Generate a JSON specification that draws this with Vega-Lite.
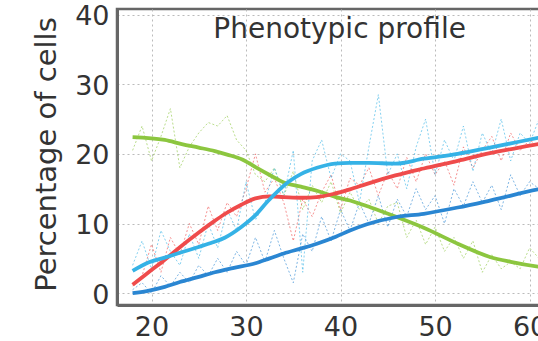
{
  "$schema": "https://vega.github.io/schema/vega-lite/v6.json",
  "autosize": "none",
  "width": 440,
  "height": 296,
  "padding": {"left": 117, "top": 9, "right": 0, "bottom": 36},
  "background": "white",
  "config": {
    "view": {"stroke": "#666666", "strokeWidth": 2.5},
    "axis": {"domainColor": "#666666", "domainWidth": 3, "gridColor": "#bbbbbb", "gridDash": [2, 3], "gridWidth": 1, "ticks": false, "labelFont": "DejaVu Sans", "labelFontSize": 27, "labelColor": "#333333", "titleFont": "DejaVu Sans", "titleFontSize": 29, "titleFontWeight": "normal", "titleColor": "#333333"}
  },
  "datasets": {
    "smooth": [
      {"age": 18, "pct": 22.4, "s": "green"}, {"age": 21.4, "pct": 22.0, "s": "green"}, {"age": 23.2, "pct": 21.4, "s": "green"}, {"age": 25, "pct": 20.9, "s": "green"}, {"age": 26.7, "pct": 20.4, "s": "green"}, {"age": 28, "pct": 19.9, "s": "green"}, {"age": 29.6, "pct": 19.2, "s": "green"}, {"age": 31, "pct": 18.1, "s": "green"}, {"age": 32.6, "pct": 16.9, "s": "green"}, {"age": 34, "pct": 15.9, "s": "green"}, {"age": 35.8, "pct": 15.3, "s": "green"}, {"age": 37.5, "pct": 14.7, "s": "green"}, {"age": 39.5, "pct": 13.8, "s": "green"}, {"age": 41, "pct": 13.3, "s": "green"}, {"age": 43.2, "pct": 12.3, "s": "green"}, {"age": 45.8, "pct": 11.0, "s": "green"}, {"age": 48.8, "pct": 9.4, "s": "green"}, {"age": 52.4, "pct": 7.1, "s": "green"}, {"age": 55.8, "pct": 5.2, "s": "green"}, {"age": 58, "pct": 4.5, "s": "green"}, {"age": 60.9, "pct": 3.8, "s": "green"}, {"age": 62, "pct": 3.6, "s": "green"},
      {"age": 18, "pct": 1.2, "s": "red"}, {"age": 19.5, "pct": 2.8, "s": "red"}, {"age": 21.4, "pct": 4.8, "s": "red"}, {"age": 23, "pct": 6.6, "s": "red"}, {"age": 24.9, "pct": 8.6, "s": "red"}, {"age": 26.5, "pct": 10.2, "s": "red"}, {"age": 27.8, "pct": 11.4, "s": "red"}, {"age": 29.5, "pct": 12.7, "s": "red"}, {"age": 31, "pct": 13.6, "s": "red"}, {"age": 32.5, "pct": 13.9, "s": "red"}, {"age": 34, "pct": 13.8, "s": "red"}, {"age": 36, "pct": 13.7, "s": "red"}, {"age": 37.5, "pct": 13.8, "s": "red"}, {"age": 39.4, "pct": 14.3, "s": "red"}, {"age": 41, "pct": 14.9, "s": "red"}, {"age": 42.8, "pct": 15.7, "s": "red"}, {"age": 45.8, "pct": 16.9, "s": "red"}, {"age": 48.8, "pct": 17.9, "s": "red"}, {"age": 52.4, "pct": 19.0, "s": "red"}, {"age": 55.8, "pct": 20.1, "s": "red"}, {"age": 60.9, "pct": 21.4, "s": "red"}, {"age": 62, "pct": 21.7, "s": "red"},
      {"age": 18, "pct": 3.2, "s": "cyan"}, {"age": 19.5, "pct": 4.3, "s": "cyan"}, {"age": 21.4, "pct": 5.1, "s": "cyan"}, {"age": 23, "pct": 5.8, "s": "cyan"}, {"age": 24.9, "pct": 6.6, "s": "cyan"}, {"age": 26.5, "pct": 7.3, "s": "cyan"}, {"age": 27.8, "pct": 8.0, "s": "cyan"}, {"age": 29.5, "pct": 9.5, "s": "cyan"}, {"age": 31, "pct": 11.2, "s": "cyan"}, {"age": 32.3, "pct": 13.2, "s": "cyan"}, {"age": 33.4, "pct": 14.7, "s": "cyan"}, {"age": 34.5, "pct": 16.0, "s": "cyan"}, {"age": 35.8, "pct": 17.1, "s": "cyan"}, {"age": 37.5, "pct": 18.0, "s": "cyan"}, {"age": 39.4, "pct": 18.6, "s": "cyan"}, {"age": 41, "pct": 18.7, "s": "cyan"}, {"age": 43, "pct": 18.7, "s": "cyan"}, {"age": 45.8, "pct": 18.6, "s": "cyan"}, {"age": 48.8, "pct": 19.3, "s": "cyan"}, {"age": 52.4, "pct": 20.0, "s": "cyan"}, {"age": 55.8, "pct": 20.9, "s": "cyan"}, {"age": 60.9, "pct": 22.3, "s": "cyan"}, {"age": 62, "pct": 22.6, "s": "cyan"},
      {"age": 18, "pct": 0.0, "s": "blue"}, {"age": 19.5, "pct": 0.3, "s": "blue"}, {"age": 21.4, "pct": 0.9, "s": "blue"}, {"age": 23, "pct": 1.6, "s": "blue"}, {"age": 24.9, "pct": 2.3, "s": "blue"}, {"age": 26.7, "pct": 3.0, "s": "blue"}, {"age": 28.6, "pct": 3.6, "s": "blue"}, {"age": 31, "pct": 4.3, "s": "blue"}, {"age": 32.5, "pct": 5.0, "s": "blue"}, {"age": 34, "pct": 5.7, "s": "blue"}, {"age": 35.8, "pct": 6.4, "s": "blue"}, {"age": 37.5, "pct": 7.1, "s": "blue"}, {"age": 39.5, "pct": 8.1, "s": "blue"}, {"age": 41, "pct": 9.0, "s": "blue"}, {"age": 42.8, "pct": 9.9, "s": "blue"}, {"age": 45.8, "pct": 10.9, "s": "blue"}, {"age": 48.8, "pct": 11.4, "s": "blue"}, {"age": 52.4, "pct": 12.3, "s": "blue"}, {"age": 55.8, "pct": 13.3, "s": "blue"}, {"age": 60.9, "pct": 14.9, "s": "blue"}, {"age": 62, "pct": 15.2, "s": "blue"}
    ],
    "raw": [
      {"age": 18, "pct": 20.5, "s": "green"}, {"age": 19, "pct": 24, "s": "green"}, {"age": 20, "pct": 19, "s": "green"}, {"age": 21, "pct": 22.5, "s": "green"}, {"age": 22, "pct": 26.5, "s": "green"}, {"age": 23, "pct": 18, "s": "green"}, {"age": 24, "pct": 21, "s": "green"}, {"age": 25, "pct": 23, "s": "green"}, {"age": 26, "pct": 24.5, "s": "green"}, {"age": 27, "pct": 24, "s": "green"}, {"age": 28, "pct": 25.5, "s": "green"}, {"age": 29, "pct": 22, "s": "green"}, {"age": 30, "pct": 20.5, "s": "green"}, {"age": 31, "pct": 17, "s": "green"}, {"age": 32, "pct": 16, "s": "green"}, {"age": 33, "pct": 18, "s": "green"}, {"age": 34, "pct": 14, "s": "green"}, {"age": 35, "pct": 17.5, "s": "green"}, {"age": 36, "pct": 12, "s": "green"}, {"age": 37, "pct": 15.5, "s": "green"}, {"age": 38, "pct": 13, "s": "green"}, {"age": 39, "pct": 16, "s": "green"}, {"age": 40, "pct": 11.5, "s": "green"}, {"age": 41, "pct": 14.5, "s": "green"}, {"age": 42, "pct": 12, "s": "green"}, {"age": 43, "pct": 13.5, "s": "green"}, {"age": 44, "pct": 10, "s": "green"}, {"age": 45, "pct": 12.5, "s": "green"}, {"age": 46, "pct": 13, "s": "green"}, {"age": 47, "pct": 8, "s": "green"}, {"age": 48, "pct": 10.5, "s": "green"}, {"age": 49, "pct": 7, "s": "green"}, {"age": 50, "pct": 9.5, "s": "green"}, {"age": 51, "pct": 6, "s": "green"}, {"age": 52, "pct": 8, "s": "green"}, {"age": 53, "pct": 5, "s": "green"}, {"age": 54, "pct": 7.5, "s": "green"}, {"age": 55, "pct": 3, "s": "green"}, {"age": 56, "pct": 5.5, "s": "green"}, {"age": 57, "pct": 3.5, "s": "green"}, {"age": 58, "pct": 4.5, "s": "green"}, {"age": 59, "pct": 3.5, "s": "green"}, {"age": 60, "pct": 6.5, "s": "green"}, {"age": 61, "pct": 5, "s": "green"},
      {"age": 18, "pct": 1, "s": "red"}, {"age": 19, "pct": 2.5, "s": "red"}, {"age": 20, "pct": 7, "s": "red"}, {"age": 21, "pct": 3, "s": "red"}, {"age": 22, "pct": 8, "s": "red"}, {"age": 23, "pct": 5.5, "s": "red"}, {"age": 24, "pct": 10, "s": "red"}, {"age": 25, "pct": 7, "s": "red"}, {"age": 26, "pct": 12.5, "s": "red"}, {"age": 27, "pct": 9, "s": "red"}, {"age": 28, "pct": 13, "s": "red"}, {"age": 29, "pct": 11, "s": "red"}, {"age": 30, "pct": 15, "s": "red"}, {"age": 31, "pct": 20, "s": "red"}, {"age": 32, "pct": 14.5, "s": "red"}, {"age": 33, "pct": 16.5, "s": "red"}, {"age": 34, "pct": 13, "s": "red"}, {"age": 35, "pct": 7.5, "s": "red"}, {"age": 36, "pct": 13.5, "s": "red"}, {"age": 37, "pct": 11, "s": "red"}, {"age": 38, "pct": 14.5, "s": "red"}, {"age": 39, "pct": 17, "s": "red"}, {"age": 40, "pct": 12, "s": "red"}, {"age": 41, "pct": 16.5, "s": "red"}, {"age": 42, "pct": 15.5, "s": "red"}, {"age": 43, "pct": 18, "s": "red"}, {"age": 44, "pct": 14, "s": "red"}, {"age": 45, "pct": 17.5, "s": "red"}, {"age": 46, "pct": 15, "s": "red"}, {"age": 47, "pct": 19.5, "s": "red"}, {"age": 48, "pct": 16, "s": "red"}, {"age": 49, "pct": 20, "s": "red"}, {"age": 50, "pct": 17, "s": "red"}, {"age": 51, "pct": 19, "s": "red"}, {"age": 52, "pct": 15.5, "s": "red"}, {"age": 53, "pct": 21, "s": "red"}, {"age": 54, "pct": 18, "s": "red"}, {"age": 55, "pct": 20.5, "s": "red"}, {"age": 56, "pct": 22.5, "s": "red"}, {"age": 57, "pct": 19, "s": "red"}, {"age": 58, "pct": 23, "s": "red"}, {"age": 59, "pct": 20.5, "s": "red"}, {"age": 60, "pct": 22, "s": "red"}, {"age": 61, "pct": 21, "s": "red"},
      {"age": 18, "pct": 4, "s": "cyan"}, {"age": 19, "pct": 7.5, "s": "cyan"}, {"age": 20, "pct": 3.5, "s": "cyan"}, {"age": 21, "pct": 9, "s": "cyan"}, {"age": 22, "pct": 6, "s": "cyan"}, {"age": 23, "pct": 4, "s": "cyan"}, {"age": 24, "pct": 8.5, "s": "cyan"}, {"age": 25, "pct": 5, "s": "cyan"}, {"age": 26, "pct": 10, "s": "cyan"}, {"age": 27, "pct": 6.5, "s": "cyan"}, {"age": 28, "pct": 12, "s": "cyan"}, {"age": 29, "pct": 9, "s": "cyan"}, {"age": 30, "pct": 16, "s": "cyan"}, {"age": 31, "pct": 10.5, "s": "cyan"}, {"age": 32, "pct": 13, "s": "cyan"}, {"age": 33, "pct": 18, "s": "cyan"}, {"age": 34, "pct": 14, "s": "cyan"}, {"age": 35, "pct": 20.5, "s": "cyan"}, {"age": 36, "pct": 3, "s": "cyan"}, {"age": 37, "pct": 19, "s": "cyan"}, {"age": 38, "pct": 22, "s": "cyan"}, {"age": 39, "pct": 16.5, "s": "cyan"}, {"age": 40, "pct": 20, "s": "cyan"}, {"age": 41, "pct": 19, "s": "cyan"}, {"age": 42, "pct": 13, "s": "cyan"}, {"age": 43, "pct": 21, "s": "cyan"}, {"age": 44, "pct": 28.5, "s": "cyan"}, {"age": 45, "pct": 17, "s": "cyan"}, {"age": 46, "pct": 20, "s": "cyan"}, {"age": 47, "pct": 15, "s": "cyan"}, {"age": 48, "pct": 21, "s": "cyan"}, {"age": 49, "pct": 25, "s": "cyan"}, {"age": 50, "pct": 17, "s": "cyan"}, {"age": 51, "pct": 22, "s": "cyan"}, {"age": 52, "pct": 19, "s": "cyan"}, {"age": 53, "pct": 24, "s": "cyan"}, {"age": 54, "pct": 17.5, "s": "cyan"}, {"age": 55, "pct": 23, "s": "cyan"}, {"age": 56, "pct": 20, "s": "cyan"}, {"age": 57, "pct": 25, "s": "cyan"}, {"age": 58, "pct": 19, "s": "cyan"}, {"age": 59, "pct": 23, "s": "cyan"}, {"age": 60, "pct": 21.5, "s": "cyan"}, {"age": 61, "pct": 25, "s": "cyan"},
      {"age": 18, "pct": 0.5, "s": "blue"}, {"age": 19, "pct": 1.5, "s": "blue"}, {"age": 20, "pct": 0, "s": "blue"}, {"age": 21, "pct": 2.5, "s": "blue"}, {"age": 22, "pct": 1, "s": "blue"}, {"age": 23, "pct": 3, "s": "blue"}, {"age": 24, "pct": 1.5, "s": "blue"}, {"age": 25, "pct": 4, "s": "blue"}, {"age": 26, "pct": 2.5, "s": "blue"}, {"age": 27, "pct": 5, "s": "blue"}, {"age": 28, "pct": 3, "s": "blue"}, {"age": 29, "pct": 6, "s": "blue"}, {"age": 30, "pct": 4, "s": "blue"}, {"age": 31, "pct": 8, "s": "blue"}, {"age": 32, "pct": 4.5, "s": "blue"}, {"age": 33, "pct": 9, "s": "blue"}, {"age": 34, "pct": 5, "s": "blue"}, {"age": 35, "pct": 1.5, "s": "blue"}, {"age": 36, "pct": 8.5, "s": "blue"}, {"age": 37, "pct": 6, "s": "blue"}, {"age": 38, "pct": 11, "s": "blue"}, {"age": 39, "pct": 7.5, "s": "blue"}, {"age": 40, "pct": 12, "s": "blue"}, {"age": 41, "pct": 9, "s": "blue"}, {"age": 42, "pct": 13, "s": "blue"}, {"age": 43, "pct": 10, "s": "blue"}, {"age": 44, "pct": 14, "s": "blue"}, {"age": 45, "pct": 9.5, "s": "blue"}, {"age": 46, "pct": 13.5, "s": "blue"}, {"age": 47, "pct": 11, "s": "blue"}, {"age": 48, "pct": 15, "s": "blue"}, {"age": 49, "pct": 12, "s": "blue"}, {"age": 50, "pct": 14, "s": "blue"}, {"age": 51, "pct": 10, "s": "blue"}, {"age": 52, "pct": 15, "s": "blue"}, {"age": 53, "pct": 12.5, "s": "blue"}, {"age": 54, "pct": 16, "s": "blue"}, {"age": 55, "pct": 13, "s": "blue"}, {"age": 56, "pct": 15.5, "s": "blue"}, {"age": 57, "pct": 12, "s": "blue"}, {"age": 58, "pct": 17, "s": "blue"}, {"age": 59, "pct": 14, "s": "blue"}, {"age": 60, "pct": 16, "s": "blue"}, {"age": 61, "pct": 15, "s": "blue"}
    ],
    "label": [{"text": "Phenotypic profile", "age": 39.9, "pct": 36.6}]
  },
  "encoding": {
    "x": {"field": "age", "type": "quantitative", "scale": {"domain": [16.35, 62.9], "nice": false, "zero": false}, "axis": {"values": [20, 30, 40, 50, 60], "title": null, "grid": true, "labelPadding": 9, "labelFlush": false}},
    "y": {"field": "pct", "type": "quantitative", "scale": {"domain": [-1.7, 40.8], "nice": false, "zero": false}, "axis": {"values": [0, 10, 20, 30, 40], "title": "Percentage of cells", "grid": true, "labelPadding": 8, "labelOffset": 2, "labelFlush": false, "titleAngle": 270, "titleX": -62, "titleY": 145, "titleAlign": "center", "titleBaseline": "alphabetic"}}
  },
  "layer": [
    {"data": {"name": "raw"}, "mark": {"type": "line", "strokeWidth": 1, "strokeDash": [2, 2], "opacity": 0.6, "clip": true},
     "encoding": {"color": {"field": "s", "type": "nominal", "legend": null, "scale": {"domain": ["green", "red", "cyan", "blue"], "range": ["#8cc63f", "#ef4b4b", "#35b2e6", "#2a86d2"]}}}},
    {"data": {"name": "smooth"}, "mark": {"type": "line", "strokeWidth": 3.8, "interpolate": "monotone", "clip": true},
     "encoding": {"color": {"field": "s", "type": "nominal", "legend": null, "scale": {"domain": ["green", "red", "cyan", "blue"], "range": ["#8cc63f", "#ef4b4b", "#35b2e6", "#2a86d2"]}}}},
    {"data": {"name": "label"}, "mark": {"type": "text", "font": "DejaVu Sans", "fontSize": 28, "color": "#333333", "align": "center", "baseline": "alphabetic"},
     "encoding": {"text": {"field": "text", "type": "nominal"}}}
  ]
}
